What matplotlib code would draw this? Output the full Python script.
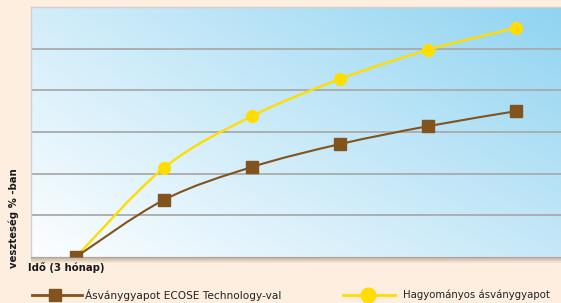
import numpy as np
import matplotlib
matplotlib.use("Agg")
import matplotlib.pyplot as plt
from matplotlib.path import Path
from matplotlib.patches import PathPatch, Rectangle
from matplotlib.lines import Line2D

periods = [0, 1, 2, 3, 4, 5]
ecose = [0.0, 1.37, 2.16, 2.71, 3.14, 3.50]
traditional = [0.0, 2.14, 3.38, 4.27, 4.97, 5.50]
series_names = ["Ásványgyapot ECOSE Technology-val", "Hagyományos ásványgyapot"]
ylabel = "veszteség % -ban"
xlabel = "Idő (3 hónap)"

BROWN = "#82531C"
YELLOW = "#FFDD00"
BG = "#FDEEDF"

fig = plt.figure(figsize=(5.61, 3.03), dpi=100, facecolor=BG)
W, H = 561, 303
left, right, top, bottom = 31, 561, 7, 257
ax = fig.add_axes([left / W, 1 - bottom / H, (right - left) / W, (bottom - top) / H])
ax.set_xlim(-0.51, 5.51)
ax.set_ylim(0, 6)


def hexrgb(h):
    h = h.lstrip("#")
    return np.array([int(h[i:i + 2], 16) for i in (0, 2, 4)]) / 255


TL, TR, BL, BR = map(hexrgb, ["#D2EDFA", "#90D4F1", "#FCFEFF", "#C6E8F8"])
nx, ny = 200, 100
u = np.linspace(0, 1, nx)[None, :, None]
v = np.linspace(0, 1, ny)[:, None, None]
img = (BL * (1 - u) * (1 - v) + BR * u * (1 - v) + TL * (1 - u) * v + TR * u * v)
ax.imshow(img, extent=[0, 1, 0, 1], transform=ax.transAxes, origin="lower",
          aspect="auto", zorder=0, interpolation="bilinear")

# shadow below plot
for i in range(6):
    fig.patches.append(Rectangle((left / W, 1 - (bottom + 1 + i) / H), (right - left) / W, 1 / H,
                                 transform=fig.transFigure, facecolor="#9c8a78",
                                 alpha=0.6 * (1 - i / 6), edgecolor="none", zorder=0))

for yv in [1, 2, 3, 4, 5]:
    ax.axhline(yv, color="#AAAAAA", lw=1.3, zorder=1)

for s in ax.spines.values():
    s.set_color("#CFCFCF")
    s.set_linewidth(1.0)
ax.spines["right"].set_visible(False)
ax.set_xticks([])
ax.set_yticks([])


def smooth_path(xs, ys):
    pts = np.column_stack([np.asarray(xs, float), np.asarray(ys, float)])
    verts = [pts[0]]
    codes = [Path.MOVETO]
    n = len(pts)
    for i in range(n - 1):
        p0 = pts[i - 1] if i > 0 else pts[i]
        p1 = pts[i]
        p2 = pts[i + 1]
        p3 = pts[i + 2] if i + 2 < n else pts[i + 1]
        c1 = p1 + (p2 - p0) / 6
        c2 = p2 - (p3 - p1) / 6
        verts += [c1, c2, p2]
        codes += [Path.CURVE4] * 3
    return Path(verts, codes)


ax.add_patch(PathPatch(smooth_path(periods, traditional), facecolor="none",
                       edgecolor=YELLOW, lw=1.7, zorder=3))
ax.add_patch(PathPatch(smooth_path(periods, ecose), facecolor="none",
                       edgecolor=BROWN, lw=1.5, zorder=4))
ax.plot(periods, traditional, ls="none", marker="o", ms=8.5, color=YELLOW, zorder=5)
ax.plot(periods, ecose, ls="none", marker="s", ms=8, color=BROWN, zorder=6)

fig.text(14 / W, 1 - 218 / H, ylabel, rotation=90, ha="center", va="center",
         fontsize=7.3, fontweight="bold", color="#1a1a1a")
fig.text(28 / W, 1 - 268 / H, xlabel, ha="left", va="center",
         fontsize=7.3, fontweight="bold", color="#1a1a1a")

# legend
ly = 1 - 295 / H
fig.lines.append(Line2D([32 / W, 82 / W], [ly] * 2, transform=fig.transFigure,
                        color=BROWN, lw=2))
fig.lines.append(Line2D([55 / W], [ly], transform=fig.transFigure,
                        marker="s", ms=9, color=BROWN, ls="none"))
fig.text(85 / W, ly, series_names[0], ha="left", va="center", fontsize=7.6,
         color="#222222")
fig.lines.append(Line2D([343 / W, 395 / W], [ly] * 2, transform=fig.transFigure,
                        color=YELLOW, lw=2))
fig.lines.append(Line2D([368 / W], [ly], transform=fig.transFigure,
                        marker="o", ms=10.5, color=YELLOW, ls="none"))
fig.text(403 / W, ly, series_names[1], ha="left", va="center", fontsize=7.3,
         color="#222222")

fig.savefig("out.png", dpi=100, facecolor=BG)
